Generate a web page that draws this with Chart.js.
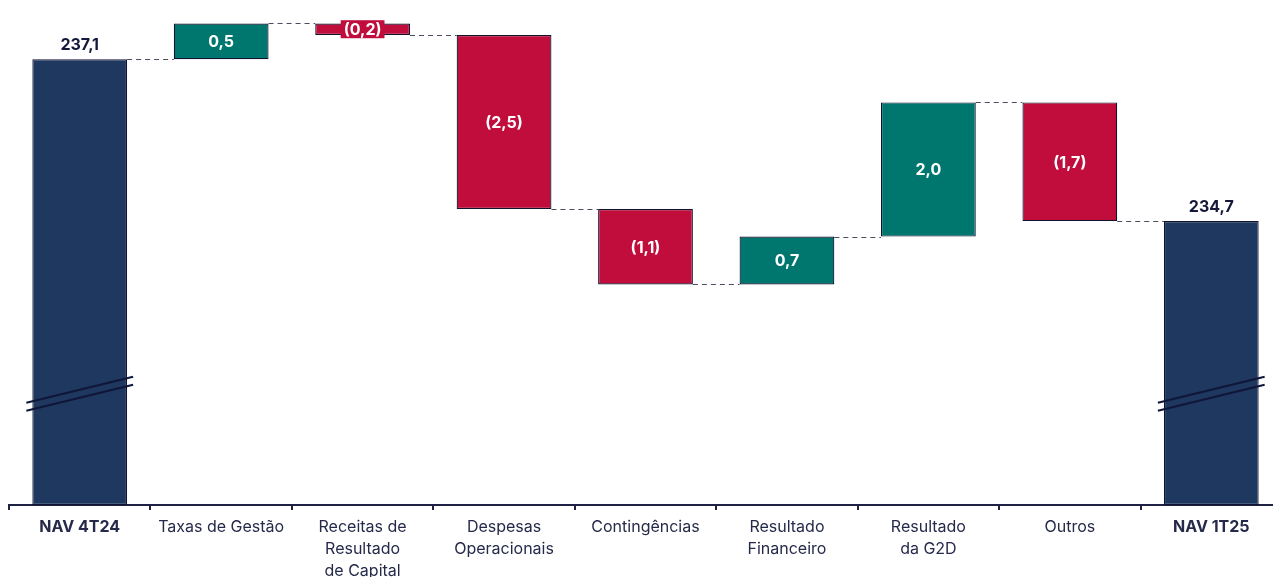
<!DOCTYPE html>
<html>
<head>
<meta charset="utf-8">
<script src="https://cdn.jsdelivr.net/npm/chart.js@4.4.1/dist/chart.umd.min.js"></script>
<style>
  html, body { margin: 0; padding: 0; background: #fff; overflow: hidden; }
  #wrap { width: 1300px; height: 577px; position: relative; }
</style>
</head>
<body>
<div id="wrap"><canvas id="nav"></canvas></div>
<script>
// NAV bridge 4T24 -> 1T25
const categories = [
  'NAV 4T24', 'Taxas de Gestão', ['Receitas de', 'Resultado', 'de Capital'],
  ['Despesas', 'Operacionais'], 'Contingências', ['Resultado', 'Financeiro'],
  ['Resultado', 'da G2D'], 'Outros', 'NAV 1T25'
];
// running level after each step
const levels = [237.1, 237.63, 237.46, 234.88, 233.76, 234.47, 236.46, 234.7];
const valueLabels = ['237,1', '0,5', '(0,2)', '(2,5)', '(1,1)', '0,7', '2,0', '(1,7)', '234,7'];
const kinds = ['total', 'up', 'down', 'down', 'down', 'up', 'up', 'down', 'total'];

const Y_MIN = 230.49;
const Y_MAX = 237.83;
const BREAK_VALUE = 232.14;

const colors = { total: '#1e3860', up: '#00776e', down: '#c00d3c' };
const edge = '#10132e';

const bars = categories.map((c, i) => {
  if (i === 0) return [Y_MIN, levels[0]];
  if (i === categories.length - 1) return [Y_MIN, levels[levels.length - 1]];
  return [levels[i - 1], levels[i]];
});

const waterfallExtras = {
  id: 'waterfallExtras',
  afterDatasetsDraw(chart) {
    const ctx = chart.ctx;
    const meta = chart.getDatasetMeta(0);
    const y = chart.scales.y;

    // dashed connectors
    ctx.save();
    ctx.strokeStyle = '#4a4e5c';
    ctx.lineWidth = 1;
    ctx.setLineDash([5, 4]);
    for (let i = 0; i < meta.data.length - 1; i++) {
      const a = meta.data[i], b = meta.data[i + 1];
      const py = Math.round(y.getPixelForValue(levels[i])) + 0.5;
      ctx.beginPath();
      ctx.moveTo(a.x + a.width / 2, py);
      ctx.lineTo(b.x - b.width / 2, py);
      ctx.stroke();
    }
    ctx.restore();

    // axis break marks on the total bars
    ctx.save();
    ctx.strokeStyle = '#101638';
    ctx.lineWidth = 2;
    [0, meta.data.length - 1].forEach(i => {
      const bar = meta.data[i];
      const py = y.getPixelForValue(BREAK_VALUE);
      const x0 = bar.x - bar.width / 2 - 6, x1 = bar.x + bar.width / 2 + 6;
      [-4, 4].forEach(off => {
        ctx.beginPath();
        ctx.moveTo(x0, py + off + 13);
        ctx.lineTo(x1, py + off - 13);
        ctx.stroke();
      });
    });
    ctx.restore();

    // value labels
    ctx.save();
    ctx.font = 'bold 16px Inter, "Open Sans", sans-serif';
    ctx.textAlign = 'center';
    ctx.textBaseline = 'middle';
    meta.data.forEach((bar, i) => {
      const txt = valueLabels[i];
      if (kinds[i] === 'total') {
        ctx.fillStyle = '#14183a';
        ctx.fillText(txt, bar.x, Math.min(bar.y, bar.base) - 14);
        return;
      }
      const cy = (bar.y + bar.base) / 2;
      if (Math.abs(bar.base - bar.y) < 24) {
        const w = ctx.measureText(txt).width + 6;
        ctx.fillStyle = colors[kinds[i]];
        ctx.fillRect(bar.x - w / 2, cy - 9, w, 18);
      }
      ctx.fillStyle = '#ffffff';
      ctx.fillText(txt, bar.x, cy + 1);
    });
    ctx.restore();
  }
};

new Chart(document.getElementById('nav'), {
  type: 'bar',
  data: {
    labels: categories,
    datasets: [{
      data: bars,
      backgroundColor: kinds.map(k => colors[k]),
      borderColor: edge,
      borderWidth: 1.2,
      borderSkipped: false,
      barPercentage: 0.67,
      categoryPercentage: 1
    }]
  },
  options: {
    responsive: true,
    maintainAspectRatio: false,
    animation: false,
    layout: { padding: { left: 9, right: 18, top: 10, bottom: 0 } },
    plugins: { legend: { display: false }, tooltip: { enabled: false } },
    scales: {
      y: { display: false, min: Y_MIN, max: Y_MAX },
      x: {
        afterFit: s => { s.height = 72; },
        border: { color: '#1f2244', width: 2 },
        grid: {
          offset: true,
          drawOnChartArea: false,
          drawTicks: true,
          tickLength: 5,
          color: '#1f2244',
          lineWidth: 2
        },
        ticks: {
          padding: 6,
          color: '#262a4a',
          maxRotation: 0,
          autoSkip: false,
          font: c => ({
            family: 'Inter, "Open Sans", sans-serif',
            size: 16,
            lineHeight: 1.375,
            weight: (c.index === 0 || c.index === 8) ? 'bold' : 'normal'
          })
        }
      }
    }
  },
  plugins: [waterfallExtras]
});
</script>
</body>
</html>
